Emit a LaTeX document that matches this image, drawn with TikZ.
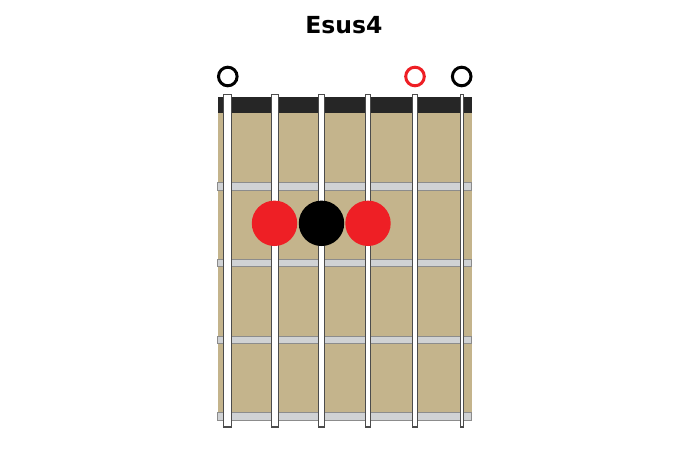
\documentclass[tikz,border=0pt]{standalone}
\usepackage{fontspec}
\setmainfont{DejaVu Sans}
\definecolor{board}{HTML}{C4B48C}
\definecolor{nutcol}{HTML}{262626}
\definecolor{fretcol}{HTML}{D0D2D4}
\definecolor{dotred}{HTML}{EE1F25}

\begin{document}
\begin{tikzpicture}[x=1pt,y=-1pt]
	\useasboundingbox (0,0) rectangle (689,451);
	\node[font=\bfseries\fontsize{23.5}{26}\selectfont] (title) at (344,25.5) {Esus4};
	% fretboard and nut
	\fill[board] (217.7,112) rectangle (471.7,420);
	\fill[nutcol] (217.7,97.3) rectangle (471.7,112.7);
	\foreach \y in {182.7,259.3,336,412.7} {
		\filldraw[fill=fretcol,draw=black!45,line width=0.9] (217.7,\y) rectangle (471.7,\y+7.3);
	}
	% strings
	\foreach \x/\w in {227.5/8,275/7.3,321.5/6,368/5,415/4.3,461.7/3.3} {
		\filldraw[fill=white,draw=black!70,line width=1.1] (\x-\w/2,94.7) rectangle (\x+\w/2,427);
	}
	% fingers
	\foreach \x/\c in {274.5/dotred,321.5/black,368/dotred} {
		\fill[\c] (\x,223.3) circle (22.7);
	}
	% open strings
	\foreach \x/\c in {227.8/black,415/dotred,461.7/black} {
		\draw[\c,line width=3] (\x,76.5) circle (9.3);
	}
\end{tikzpicture}
\end{document}
